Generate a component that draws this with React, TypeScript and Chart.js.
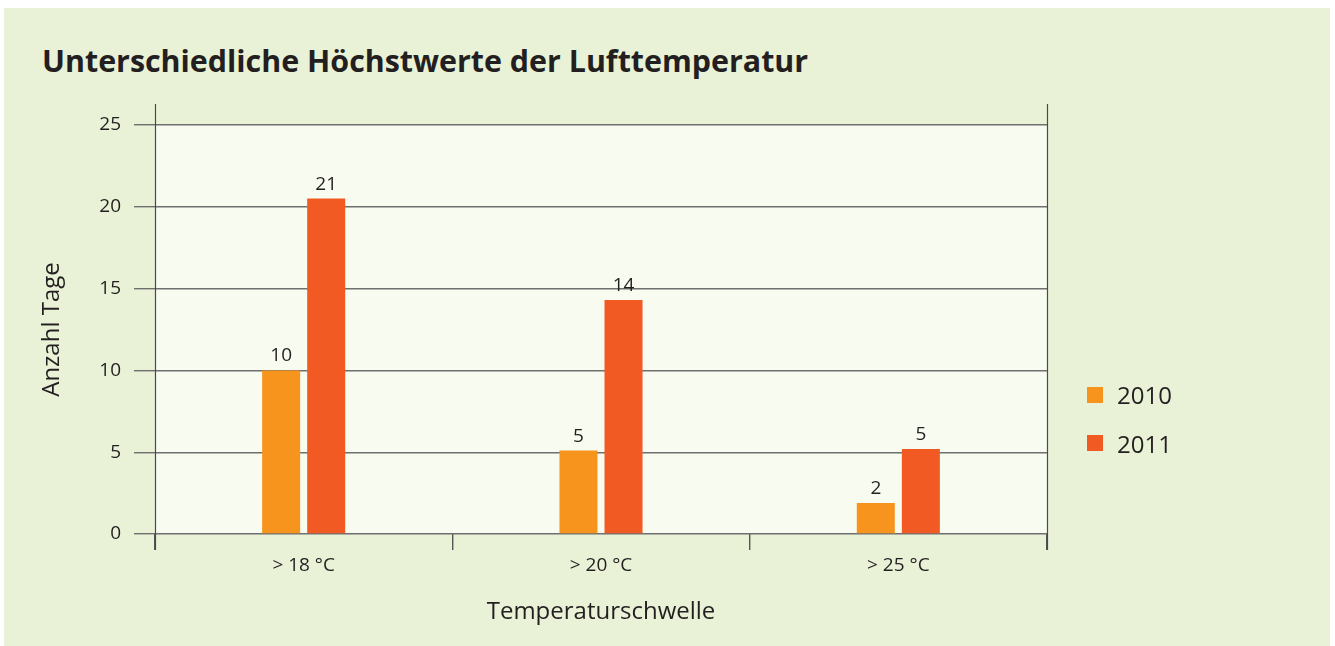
import React, { useEffect, useRef } from "react";
import { Chart, registerables } from "chart.js";

Chart.register(...registerables);

const chartTitle = "Unterschiedliche Höchstwerte der Lufttemperatur";
const categories = ["> 18 °C", "> 20 °C", "> 25 °C"];
const seriesNames = ["2010", "2011"];
const values2010 = [10, 5.1, 1.9];
const values2011 = [20.5, 14.3, 5.2];
const seriesColors = ["#f7941d", "#f15a22"];
const yTitle = "Anzahl Tage";
const xTitle = "Temperaturschwelle";
const yMin = 0;
const yMax = 25;
const yStep = 5;

const FONT = "'Open Sans', 'Noto Sans', sans-serif";
const TEXT = "#231f20";

const plotBg = {
  id: "plotBg",
  beforeDraw(chart: any) {
    const { ctx, chartArea } = chart;
    ctx.save();
    ctx.fillStyle = "#f8fbf0";
    ctx.fillRect(chartArea.left, chartArea.top, chartArea.right - chartArea.left, chartArea.bottom - chartArea.top);
    ctx.restore();
  },
};

const frameLines = {
  id: "frameLines",
  afterDraw(chart: any) {
    const { ctx, chartArea } = chart;
    ctx.save();
    ctx.strokeStyle = "#4a4a4a";
    ctx.lineWidth = 1.2;
    [chartArea.left, chartArea.right].forEach((x: number) => {
      ctx.beginPath();
      ctx.moveTo(Math.round(x) + 0.5, chartArea.top - 21);
      ctx.lineTo(Math.round(x) + 0.5, chartArea.bottom + 16);
      ctx.stroke();
    });
    ctx.restore();
  },
};

const valueLabels = {
  id: "valueLabels",
  afterDatasetsDraw(chart: any) {
    const { ctx } = chart;
    ctx.save();
    ctx.font = `19px ${FONT}`;
    ctx.fillStyle = TEXT;
    ctx.textAlign = "center";
    ctx.textBaseline = "alphabetic";
    chart.data.datasets.forEach((ds: any, i: number) => {
      const meta = chart.getDatasetMeta(i);
      meta.data.forEach((bar: any, j: number) => {
        ctx.fillText(String(Math.round(ds.data[j])), bar.x, bar.y - 9);
      });
    });
    ctx.restore();
  },
};

export default function App() {
  const canvasRef = useRef<HTMLCanvasElement | null>(null);

  useEffect(() => {
    if (!canvasRef.current) return;
    const chart = new Chart(canvasRef.current, {
      type: "bar",
      data: {
        labels: categories,
        datasets: [
          { label: seriesNames[0], data: values2010, backgroundColor: seriesColors[0] },
          { label: seriesNames[1], data: values2011, backgroundColor: seriesColors[1] },
        ],
      },
      options: {
        animation: false,
        responsive: true,
        maintainAspectRatio: false,
        layout: { padding: { left: 0, right: 283, top: 37, bottom: 0 } },
        datasets: { bar: { categoryPercentage: 0.303, barPercentage: 0.844 } },
        plugins: { legend: { display: false }, tooltip: { enabled: false } },
        scales: {
          x: {
            afterFit: (s: any) => { s.height = 112; },
            grid: { offset: true, drawOnChartArea: false, tickLength: 16, color: "#555", lineWidth: 1.4 },
            border: { display: false },
            ticks: { font: { family: FONT, size: 19 }, color: TEXT, padding: 4.5 },
            title: { display: true, text: xTitle, font: { family: FONT, size: 24 }, color: TEXT, padding: { top: 0, bottom: 19.6 } },
          },
          y: {
            min: yMin,
            max: yMax,
            afterFit: (s: any) => { s.width = 151; },
            grid: { tickLength: 21, color: "#6f6f6f", lineWidth: 1.4 },
            border: { display: false },
            ticks: { stepSize: yStep, font: { family: FONT, size: 19 }, color: TEXT, padding: 13 },
            title: { display: true, text: yTitle, font: { family: FONT, size: 24 }, color: TEXT, padding: { top: 33.6, bottom: 0 } },
          },
        },
      },
      plugins: [plotBg, valueLabels, frameLines],
    });
    return () => chart.destroy();
  }, []);

  return (
    <div style={{ position: "absolute", left: 4, top: 8, width: 1326, height: 638, background: "#e9f2d6", overflow: "hidden", fontFamily: FONT, color: TEXT }}>
      <div style={{ position: "absolute", left: 38, top: 37.5, fontSize: 30.4, lineHeight: "30px", fontWeight: 700, whiteSpace: "nowrap" }}>{chartTitle}</div>
      <div style={{ position: "absolute", left: 0, top: 80, width: 1326, height: 558 }}>
        <canvas ref={canvasRef} />
      </div>
      {seriesNames.map((name, i) => (
        <div key={name} style={{ position: "absolute", left: 1083, top: 368.5 + i * 48.5, height: 36, display: "flex", alignItems: "center", whiteSpace: "nowrap" }}>
          <span style={{ display: "inline-block", width: 16, height: 16, background: seriesColors[i], marginRight: 14 }} />
          <span style={{ fontSize: 24 }}>{name}</span>
        </div>
      ))}
    </div>
  );
}
